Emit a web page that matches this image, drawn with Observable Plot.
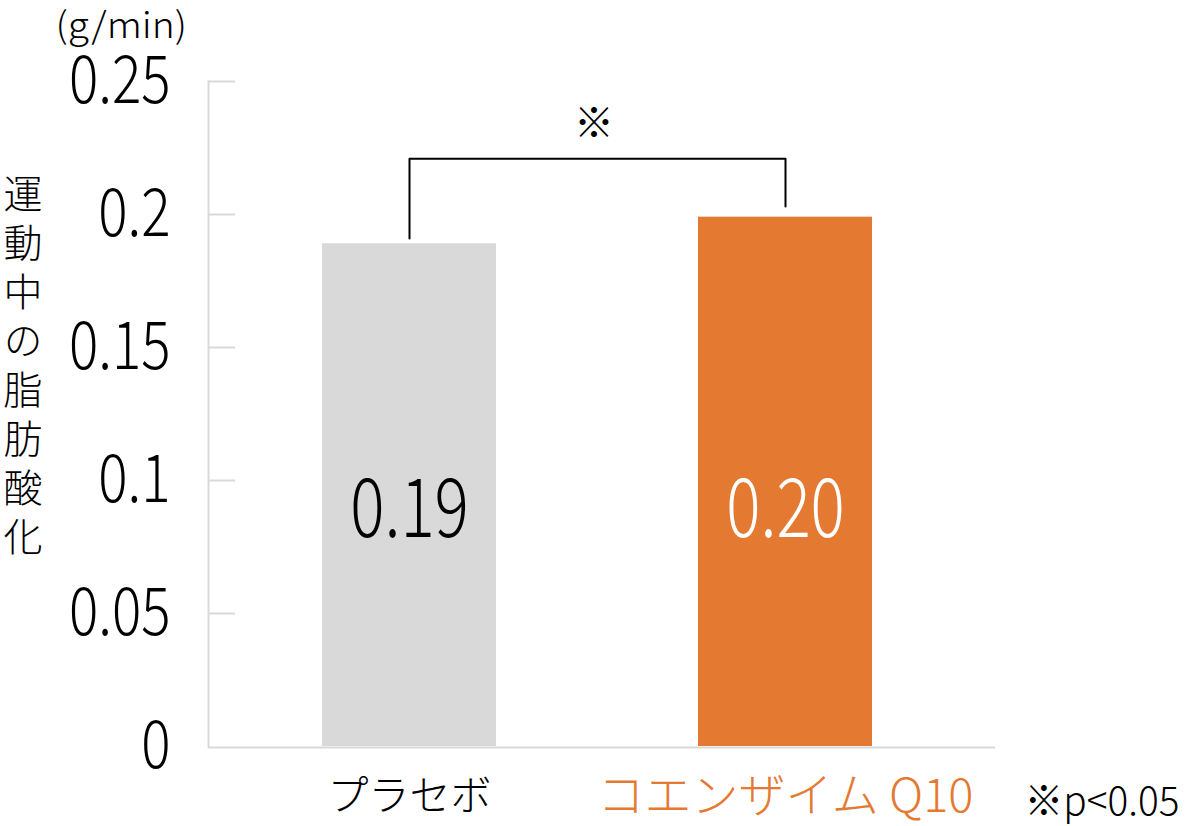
<!DOCTYPE html>
<html>
<head>
<meta charset="utf-8">
<script src="https://cdn.jsdelivr.net/npm/d3@7"></script>
<script src="https://cdn.jsdelivr.net/npm/@observablehq/plot@0.6"></script>
<style>
  html, body { margin: 0; padding: 0; background: #fff; }
  #wrap { position: relative; width: 1195px; height: 826px; }
  #ytitle {
    position: absolute; left: 3px; top: 174px;
    writing-mode: vertical-rl; text-orientation: upright;
    font-family: 'Noto Sans CJK JP', sans-serif; font-size: 39px; font-weight: 300;
    letter-spacing: 10px; line-height: 1; color: #000;
  }
</style>
</head>
<body>
<div id="wrap"><div id="chart"></div><div id="ytitle"></div></div>
<script>
const categories = ["プラセボ", "コエンザイム Q10"];
const values = [0.189, 0.199];
const valueLabels = ["0.19", "0.20"];
const barColors = ["#d9d9d9", "#e47a32"];
const valueLabelColors = ["#000000", "#ffffff"];
const categoryLabelColors = ["#000000", "#e47a32"];
const yTicks = [0, 0.05, 0.1, 0.15, 0.2, 0.25];
const yTickLabels = ["0", "0.05", "0.1", "0.15", "0.2", "0.25"];
const bracketCats = [categories[0], categories[0], categories[1], categories[1]];
const bracketValues = [0.191, 0.221, 0.221, 0.203];
const significanceMark = "※";
const significanceY = 0.234;
const unitLabel = "(g/min)";
const yTitle = "運動中の脂肪酸化";
const footnote = "※p<0.05";

const data = categories.map((c, i) => ({
  cat: c, value: values[i], label: valueLabels[i],
  fill: barColors[i], labelFill: valueLabelColors[i], catFill: categoryLabelColors[i]
}));
const bracket = bracketCats.map((c, i) => ({cat: c, value: bracketValues[i]}));

const FONT = "'Noto Sans CJK JP', 'Noto Sans', sans-serif";

const chart = Plot.plot({
  width: 1195,
  height: 826,
  marginLeft: 208,
  marginRight: 200,
  marginTop: 81,
  marginBottom: 80,
  style: {fontFamily: FONT, fontWeight: 300, background: "#fff", color: "#000"},
  x: {domain: categories, paddingInner: 0.537, paddingOuter: 0.315, align: 0.48, axis: null},
  y: {domain: [0, 0.25]},
  color: {type: "identity"},
  marks: [
    Plot.ruleY(yTicks.filter(d => d > 0), {stroke: "#d9d9d9", strokeWidth: 2, insetRight: 760}),
    Plot.ruleY([0], {stroke: "#d9d9d9", strokeWidth: 2, dy: 1}),
    Plot.frame({anchor: "left", stroke: "#d9d9d9", strokeWidth: 2}),
    Plot.axisY(yTicks, {
      tickSize: 0, tickPadding: 38, fontSize: 66, fill: "#000",
      tickFormat: d => yTickLabels[yTicks.indexOf(d)], label: null
    }),
    Plot.barY(data, {x: "cat", y: "value", fill: "fill"}),
    Plot.text(data, {x: "cat", text: "label", fill: "labelFill", frameAnchor: "bottom", lineAnchor: "middle", dy: -236, fontSize: 82}),
    Plot.line(bracket, {x: "cat", y: "value", stroke: "#000", strokeWidth: 2}),
    Plot.text([significanceMark], {y: () => significanceY, text: d => d, frameAnchor: "middle", dx: -8, fontSize: 40}),
    Plot.text(data, {x: "cat", text: "cat", fill: "catFill", frameAnchor: "bottom", lineAnchor: "middle", dy: 50, fontSize: (d, i) => (i === 0 ? 41 : 47)}),
    Plot.text([footnote], {text: d => d, frameAnchor: "bottom-right", textAnchor: "start", lineAnchor: "middle", dx: 29, dy: 56, fontSize: 40}),
    Plot.text([unitLabel], {text: d => d, frameAnchor: "top-left", textAnchor: "start", lineAnchor: "middle", dx: -153, dy: -55, fontSize: 36})
  ]
});
document.getElementById("chart").appendChild(chart);
document.getElementById("ytitle").textContent = yTitle;

function fitText(nodes, factor) {
  nodes.forEach(node => {
    const w = node.getComputedTextLength();
    if (w > 0) {
      node.setAttribute("textLength", (w * factor).toFixed(1));
      node.setAttribute("lengthAdjust", "spacingAndGlyphs");
    }
  });
}
const svg = d3.select(chart);
fitText(svg.selectAll('g[aria-label="y-axis tick label"] text').nodes(), 0.83);
const textGroups = svg.selectAll('g[aria-label="text"]').nodes();
if (textGroups.length) fitText(Array.from(textGroups[0].querySelectorAll("text")), 0.78);
if (textGroups.length > 3) fitText(Array.from(textGroups[3].querySelectorAll("text")), 0.97);
if (textGroups.length > 4) fitText(Array.from(textGroups[4].querySelectorAll("text")), 1.08);
</script>
</body>
</html>
